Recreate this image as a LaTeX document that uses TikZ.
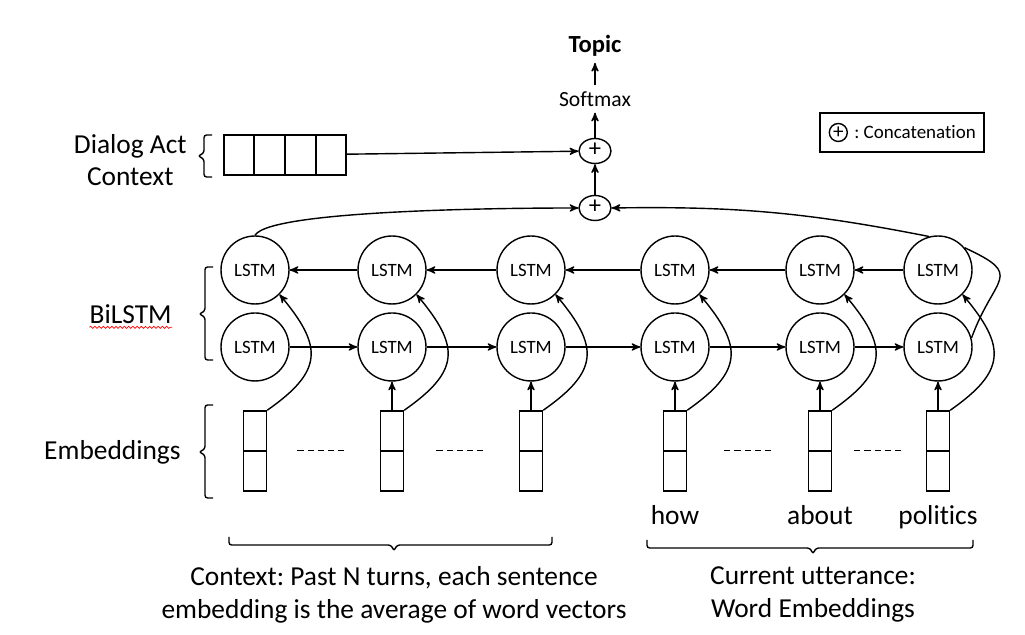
\documentclass[tikz,border=0pt]{standalone}
\usepackage{fontspec}
\setmainfont{Carlito}[Ligatures=NoCommon]
\frenchspacing
\usetikzlibrary{arrows,positioning,calc,shapes.geometric,decorations.pathmorphing}
\tikzset{
    lstm/.style =   {circle,
                    fill=white,
                    draw=black,
                    text=black,
                    thick,
                    inner sep=0pt,
                    minimum size=1.36cm,
                    font=\fontsize{10.7}{12}\selectfont},
    embed/.style =  {rectangle,
                    fill=white,
                    draw=black,
                    thick,
                    inner sep=0pt,
                    minimum width=0.46cm,
                    minimum height=1.6cm,
                    path picture={\draw[thick] (path picture bounding box.west) -- (path picture bounding box.east);}},
    concat/.style = {ellipse,
                    fill=white,
                    draw=black,
                    thick,
                    inner sep=0pt,
                    minimum width=0.64cm,
                    minimum height=0.5cm,
                    text height=1.4ex,
                    text depth=0pt,
                    font=\fontsize{14}{14}\selectfont},
    legplus/.style ={circle,
                    draw=black,
                    thick,
                    inner sep=0pt,
                    minimum size=0.36cm,
                    text height=1.4ex,
                    text depth=0pt,
                    font=\fontsize{12}{12}\selectfont},
    dabox/.style =  {rectangle,
                    draw=black,
                    thick,
                    minimum width=2.44cm,
                    minimum height=0.8cm},
    legend/.style = {rectangle,
                    draw=black,
                    thick,
                    minimum width=3.28cm,
                    minimum height=0.78cm},
    softmax/.style ={font=\fontsize{12.3}{14}\selectfont},
    topic/.style =  {font=\fontsize{14}{16}\selectfont\bfseries},
    legtext/.style ={inner sep=0pt,
                    font=\fontsize{10.8}{12}\selectfont},
    word/.style =   {inner sep=0pt,
                    font=\fontsize{15.6}{18}\selectfont},
    sidelabel/.style = {align=center,
                    inner sep=0pt,
                    font=\fontsize{15.6}{18.2}\selectfont},
    bottomlabel/.style = {align=center,
                    inner sep=0pt,
                    font=\fontsize{15.6}{18.8}\selectfont},
    bracket/.style = {thick,
                    rounded corners=1.5pt},
    dashline/.style = {semithick,
                    dash pattern=on 3.5pt off 2.3pt},
    squiggle/.style = {decorate,
                    decoration={snake,amplitude=0.6pt,segment length=2.4pt},
                    red,
                    thin},
    >=stealth'}

\begin{document}
\begin{tikzpicture}[x=0.02cm,y=0.02cm,node distance=1.54cm]
\useasboundingbox (0,0) rectangle (1025,635);

                \node[lstm]     (T1) at (255,365)                          {LSTM};
                \node[lstm]     (T2) at (392,365)                          {LSTM};
                \node[lstm]     (T3) at (531,365)                          {LSTM};
                \node[lstm]     (T4) at (675,365)                          {LSTM};
                \node[lstm]     (T5) at (820,365)                          {LSTM};
                \node[lstm]     (T6) at (938,365)                          {LSTM};
                \node[lstm]     (B1) [below of=T1]                         {LSTM};
                \node[lstm]     (B2) [below of=T2]                         {LSTM};
                \node[lstm]     (B3) [below of=T3]                         {LSTM};
                \node[lstm]     (B4) [below of=T4]                         {LSTM};
                \node[lstm]     (B5) [below of=T5]                         {LSTM};
                \node[lstm]     (B6) [below of=T6]                         {LSTM};
                \node[embed]    (E1) [below of=B1,node distance=2.08cm]    {};
                \node[embed]    (E2) [below of=B2,node distance=2.08cm]    {};
                \node[embed]    (E3) [below of=B3,node distance=2.08cm]    {};
                \node[embed]    (E4) [below of=B4,node distance=2.08cm]    {};
                \node[embed]    (E5) [below of=B5,node distance=2.08cm]    {};
                \node[embed]    (E6) [below of=B6,node distance=2.08cm]    {};
                \node[word]     (W4) [below of=E4,node distance=1.48cm,anchor=base] {how};
                \node[word]     (W5) [below of=E5,node distance=1.48cm,anchor=base] {about};
                \node[word]     (W6) [below of=E6,node distance=1.48cm,anchor=base] {politics};

                \node[concat]   (P2) at (595,427)                          {+};
                \node[concat]   (P1) [above of=P2,node distance=1.14cm]    {+};
                \node[softmax]  (S)  [above of=P1,node distance=1.04cm]    {Softmax};
                \node[topic]    (Tp) [above of=S,node distance=1.06cm]     {Topic};
                \node[dabox]    (DA) at (285,480)                          {};
                \node[legend]   (Leg) at (902,502.5)                       {};
                \node[legplus]  (LegP) at ([xshift=0.38cm]Leg.west)        {+};
                \node[legtext]  (LegT) [right=0.12cm of LegP]              {: Concatenation};

                \draw[thick] ($(DA.north west)!0.25!(DA.north east)$) -- ($(DA.south west)!0.25!(DA.south east)$);
                \draw[thick] ($(DA.north west)!0.5!(DA.north east)$) -- ($(DA.south west)!0.5!(DA.south east)$);
                \draw[thick] ($(DA.north west)!0.75!(DA.north east)$) -- ($(DA.south west)!0.75!(DA.south east)$);

                \draw[dashline] ($(E1)!0.31!(E2)$) -- ($(E1)!0.66!(E2)$);
                \draw[dashline] ($(E2)!0.32!(E3)$) -- ($(E2)!0.68!(E3)$);
                \draw[dashline] ($(E4)!0.34!(E5)$) -- ($(E4)!0.67!(E5)$);
                \draw[dashline] ($(E5)!0.29!(E6)$) -- ($(E5)!0.70!(E6)$);

                \draw[bracket] (212,500) -- (204,500) -- (204,482) -- (198,479) -- (204,476) -- (204,458) -- (212,458);
                \draw[bracket] (213,368) -- (205,368) -- (205,324) -- (199,321) -- (205,318) -- (205,275) -- (213,275);
                \draw[bracket] (213,230) -- (205,230) -- (205,186) -- (199,183) -- (205,180) -- (205,137) -- (213,137);
                \draw[bracket] (229,98) -- (229,90) -- (391,90) -- (394,84) -- (397,90) -- (552,90) -- (552,98);
                \draw[bracket] (647,95) -- (647,87) -- (810,87) -- (813,81) -- (816,87) -- (973,87) -- (973,95);
                \coordinate (tipDA)  at (198,479);
                \coordinate (tipBi)  at (199,321);
                \coordinate (tipEmb) at (199,183);
                \coordinate (tipCtx) at (394,84);
                \coordinate (tipCur) at (813,81);

                \node[sidelabel]   (LDA)  [left=0.22cm of tipDA,yshift=-0.08cm] {Dialog Act\\Context};
                \node[sidelabel]   (LBi)  [left=0.54cm of tipBi]                {BiLSTM};
                \node[sidelabel]   (LEmb) [left=0.36cm of tipEmb]               {Embeddings};
                \node[bottomlabel] (LCtx) [below=0.3cm of tipCtx]               {Context: Past N turns, each sentence\\embedding is the average of word vectors};
                \node[bottomlabel] (LCur) [below=0.24cm of tipCur]              {Current utterance:\\Word Embeddings};
                \draw[squiggle] ([yshift=-0.08cm]LBi.base west) -- ([yshift=-0.08cm]LBi.base east);

                \path [thick,->]    (T2) edge []        (T1)
                                    (T3) edge []        (T2)
                                    (T4) edge []        (T3)
                                    (T5) edge []        (T4)
                                    (T6) edge []        (T5)
                                    (B1) edge []        (B2)
                                    (B2) edge []        (B3)
                                    (B3) edge []        (B4)
                                    (B4) edge []        (B5)
                                    (B5) edge []        (B6)
                                    (E2) edge []        (B2)
                                    (E3) edge []        (B3)
                                    (E4) edge []        (B4)
                                    (E5) edge []        (B5)
                                    (E6) edge []        (B6)
                                    (E1.north east) edge [out=35,in=-50,looseness=1.5]  (T1.-45)
                                    (E2.north east) edge [out=35,in=-50,looseness=1.5]  (T2.-45)
                                    (E3.north east) edge [out=35,in=-50,looseness=1.5]  (T3.-45)
                                    (E4.north east) edge [out=35,in=-50,looseness=1.5]  (T4.-45)
                                    (E5.north east) edge [out=35,in=-50,looseness=1.5]  (T5.-45)
                                    (E6.north east) edge [out=35,in=-50,looseness=1.5]  (T6.-45)
                                    (T1.north) edge [out=60,in=180,looseness=0.25]     (P2.west)
                                    (T6.105) edge [bend right=6]                       (P2.east)
                                    (P2) edge []        (P1)
                                    (DA) edge []        (P1)
                                    (P1) edge []        (S)
                                    (S) edge []         (Tp);
                \draw [thick]       (B6.15) to [out=70,in=-25,looseness=1.9] (T6.40);
\end{tikzpicture}
\end{document}
